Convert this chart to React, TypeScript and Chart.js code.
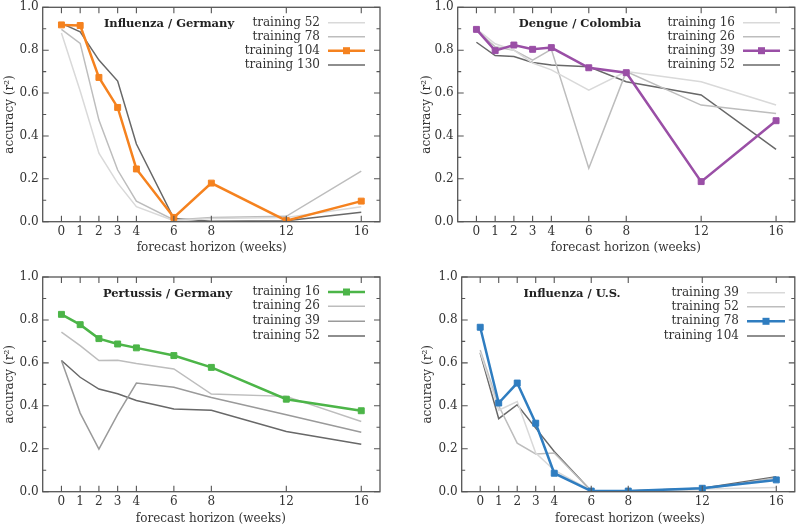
import React, { useEffect, useRef } from 'react';
import { Chart, registerables } from 'chart.js';

Chart.register(...registerables);

// ---------- data ----------
const HORIZONS = [0, 1, 2, 3, 4, 6, 8, 12, 16];
const X_TICKS = [0, 1, 2, 3, 4, 6, 8, 12, 16];
const Y_TICKS = [0, 0.2, 0.4, 0.6, 0.8, 1.0];
const Y_MINOR = [0.1, 0.3, 0.5, 0.7, 0.9];

const fluDe52 = [0.88, 0.61, 0.32, 0.18, 0.07, 0.005, 0.015, 0.02, 0.07];
const fluDe78 = [0.897, 0.832, 0.474, 0.241, 0.096, 0.008, 0.02, 0.025, 0.236];
const fluDe104 = [0.918, 0.915, 0.673, 0.533, 0.246, 0.02, 0.18, 0.005, 0.096];
const fluDe130 = [0.925, 0.886, 0.754, 0.656, 0.362, 0.015, 0.002, 0.005, 0.044];

const dengue16 = [0.9, 0.83, 0.8, 0.74, 0.708, 0.614, 0.7, 0.653, 0.544];
const dengue26 = [0.894, 0.816, 0.8, 0.754, 0.804, 0.249, 0.7, 0.544, 0.505];
const dengue39 = [0.897, 0.798, 0.824, 0.804, 0.812, 0.718, 0.695, 0.187, 0.471];
const dengue52 = [0.837, 0.775, 0.77, 0.743, 0.731, 0.723, 0.653, 0.591, 0.337];

const pert16 = [0.826, 0.778, 0.713, 0.688, 0.67, 0.634, 0.579, 0.431, 0.377];
const pert26 = [0.743, 0.68, 0.611, 0.612, 0.597, 0.572, 0.455, 0.444, 0.327];
const pert39 = [0.611, 0.366, 0.198, 0.36, 0.506, 0.486, 0.439, 0.358, 0.277];
const pert52 = [0.611, 0.533, 0.478, 0.456, 0.425, 0.385, 0.379, 0.28, 0.221];

const fluUs39 = [0.65, 0.38, 0.42, 0.18, 0.1, 0.005, 0.005, 0.012, 0.02];
const fluUs52 = [0.66, 0.4, 0.226, 0.176, 0.18, 0.003, 0.005, 0.01, 0.065];
const fluUs78 = [0.766, 0.413, 0.506, 0.319, 0.086, 0.003, 0.003, 0.016, 0.055];
const fluUs104 = [0.646, 0.34, 0.405, 0.296, 0.187, 0.003, 0.003, 0.016, 0.07];

const X_TITLE = 'forecast horizon (weeks)';
const Y_TITLE = 'accuracy (r²)';

// ---------- styles ----------
const FONT = '"DejaVu Serif", "Liberation Serif", serif';
const G1 = '#d9d9d9';
const G2 = '#bdbdbd';
const G3 = '#9a9a9a';
const G4 = '#686868';
const ORANGE = '#f5821f';
const PURPLE = '#9a4fa6';
const GREEN = '#4cb548';
const BLUE = '#2f7dc0';

type Series = { label: string; data: number[]; color: string; highlight?: boolean };
type PanelCfg = {
  title: string;
  series: Series[];
  pos: { x: number; y: number };
  area: { l: number; r: number; t: number; b: number };
  titleXY: [number, number];
  legend: { textRight: number; lineStart: number; lineEnd: number; rows: number[] };
  xTitleXY: [number, number];
  yTitleX: number;
};

const W = 400;
const H = 262;

const PANELS: PanelCfg[] = [
  {
    title: 'Influenza / Germany',
    series: [
      { label: 'training 52', data: fluDe52, color: G1 },
      { label: 'training 78', data: fluDe78, color: G2 },
      { label: 'training 104', data: fluDe104, color: ORANGE, highlight: true },
      { label: 'training 130', data: fluDe130, color: G4 },
    ],
    pos: { x: 0, y: 0 },
    area: { l: 42.7, r: 380, t: 7.3, b: 221.7 },
    titleXY: [169, 24],
    legend: { textRight: 320, lineStart: 328, lineEnd: 365, rows: [22.7, 36.7, 50.7, 65] },
    xTitleXY: [211.7, 248],
    yTitleX: 10,
  },
  {
    title: 'Dengue / Colombia',
    series: [
      { label: 'training 16', data: dengue16, color: G1 },
      { label: 'training 26', data: dengue26, color: G2 },
      { label: 'training 39', data: dengue39, color: PURPLE, highlight: true },
      { label: 'training 52', data: dengue52, color: G4 },
    ],
    pos: { x: 400, y: 0 },
    area: { l: 57.7, r: 395, t: 7.3, b: 221.7 },
    titleXY: [180, 24],
    legend: { textRight: 335, lineStart: 343, lineEnd: 380, rows: [22.7, 36.7, 50.7, 65] },
    xTitleXY: [225.8, 248],
    yTitleX: 27,
  },
  {
    title: 'Pertussis / Germany',
    series: [
      { label: 'training 16', data: pert16, color: GREEN, highlight: true },
      { label: 'training 26', data: pert26, color: G2 },
      { label: 'training 39', data: pert39, color: G3 },
      { label: 'training 52', data: pert52, color: G4 },
    ],
    pos: { x: 0, y: 262 },
    area: { l: 42.7, r: 380, t: 15, b: 229.7 },
    titleXY: [167.5, 31.7],
    legend: { textRight: 320, lineStart: 328, lineEnd: 365, rows: [30, 44.3, 59.3, 74] },
    xTitleXY: [210.8, 256.7],
    yTitleX: 10,
  },
  {
    title: 'Influenza / U.S.',
    series: [
      { label: 'training 39', data: fluUs39, color: G1 },
      { label: 'training 52', data: fluUs52, color: G2 },
      { label: 'training 78', data: fluUs78, color: BLUE, highlight: true },
      { label: 'training 104', data: fluUs104, color: G4 },
    ],
    pos: { x: 400, y: 262 },
    area: { l: 61.7, r: 398.5, t: 15, b: 229.7 },
    titleXY: [172, 32],
    legend: { textRight: 339, lineStart: 347, lineEnd: 385, rows: [30.7, 44.7, 59.3, 74] },
    xTitleXY: [230, 256.7],
    yTitleX: 28,
  },
];

function decorPlugin(cfg: PanelCfg) {
  return {
    id: 'decor',
    afterDraw(chart: any) {
      const ctx: CanvasRenderingContext2D = chart.ctx;
      const { left, right, top, bottom } = chart.chartArea;
      const xs = chart.scales.x;
      const ys = chart.scales.y;
      ctx.save();
      // frame
      ctx.strokeStyle = '#555555';
      ctx.lineWidth = 1.3;
      ctx.strokeRect(left, top, right - left, bottom - top);
      // ticks
      ctx.lineWidth = 1.1;
      ctx.beginPath();
      X_TICKS.forEach((v) => {
        const px = xs.getPixelForValue(v);
        ctx.moveTo(px, bottom);
        ctx.lineTo(px, bottom - 6);
        ctx.moveTo(px, top);
        ctx.lineTo(px, top + 6);
      });
      Y_TICKS.forEach((v) => {
        const py = ys.getPixelForValue(v);
        ctx.moveTo(left, py);
        ctx.lineTo(left + 6, py);
        ctx.moveTo(right, py);
        ctx.lineTo(right - 6, py);
      });
      Y_MINOR.forEach((v) => {
        const py = ys.getPixelForValue(v);
        ctx.moveTo(left, py);
        ctx.lineTo(left + 3.5, py);
        ctx.moveTo(right, py);
        ctx.lineTo(right - 3.5, py);
      });
      ctx.stroke();

      // title
      ctx.fillStyle = '#222222';
      ctx.font = `bold 11.5px ${FONT}`;
      ctx.textAlign = 'center';
      ctx.textBaseline = 'middle';
      ctx.fillText(cfg.title, cfg.titleXY[0], cfg.titleXY[1]);

      // legend
      ctx.font = `12px ${FONT}`;
      cfg.series.forEach((s, i) => {
        const y = cfg.legend.rows[i];
        ctx.fillStyle = '#333333';
        ctx.textAlign = 'right';
        ctx.textBaseline = 'middle';
        ctx.fillText(s.label, cfg.legend.textRight, y);
        ctx.strokeStyle = s.color;
        ctx.lineWidth = s.highlight ? 2.5 : 1.5;
        ctx.beginPath();
        ctx.moveTo(cfg.legend.lineStart, y);
        ctx.lineTo(cfg.legend.lineEnd, y);
        ctx.stroke();
        if (s.highlight) {
          const cx = (cfg.legend.lineStart + cfg.legend.lineEnd) / 2;
          ctx.fillStyle = s.color;
          ctx.fillRect(cx - 3.5, y - 3.5, 7, 7);
        }
      });

      // axis titles
      ctx.fillStyle = '#333333';
      ctx.font = `12px ${FONT}`;
      ctx.textAlign = 'center';
      ctx.textBaseline = 'middle';
      ctx.fillText(X_TITLE, cfg.xTitleXY[0], cfg.xTitleXY[1]);
      ctx.save();
      ctx.translate(cfg.yTitleX, (top + bottom) / 2);
      ctx.rotate(-Math.PI / 2);
      ctx.fillText(Y_TITLE, 0, 0);
      ctx.restore();
      ctx.restore();
    },
  };
}

function PanelChart({ cfg }: { cfg: PanelCfg }) {
  const ref = useRef<HTMLCanvasElement>(null);
  useEffect(() => {
    const canvas = ref.current!;
    const a = cfg.area;
    const chart = new Chart(canvas, {
      type: 'line',
      data: {
        datasets: cfg.series.map((s) => ({
          label: s.label,
          data: HORIZONS.map((x, j) => ({ x, y: s.data[j] })),
          borderColor: s.color,
          backgroundColor: s.color,
          borderWidth: s.highlight ? 2.5 : 1.5,
          pointStyle: 'rect',
          pointRadius: s.highlight ? 4.2 : 0,
          pointBorderWidth: 1,
          pointHoverRadius: 0,
          tension: 0,
          order: s.highlight ? 0 : 1,
        })),
      },
      options: {
        responsive: false,
        animation: false,
        devicePixelRatio: 1,
        events: [],
        layout: { padding: { left: 0, right: W - a.r, top: a.t, bottom: 0 } },
        plugins: {
          legend: { display: false },
          tooltip: { enabled: false },
          title: { display: false },
        },
        scales: {
          x: {
            type: 'linear',
            min: -1,
            max: 17,
            grid: { display: false, drawTicks: false },
            border: { display: false },
            ticks: {
              font: { family: FONT, size: 12 },
              color: '#333333',
              padding: 3,
              maxRotation: 0,
              autoSkip: false,
            },
            afterBuildTicks: (s: any) => {
              s.ticks = X_TICKS.map((v) => ({ value: v }));
            },
            afterFit: (s: any) => {
              s.height = H - a.b;
              s.paddingLeft = 0;
              s.paddingRight = 0;
              s.paddingTop = 0;
              s.paddingBottom = 0;
            },
          },
          y: {
            type: 'linear',
            min: 0,
            max: 1,
            grid: { display: false, drawTicks: false },
            border: { display: false },
            ticks: {
              font: { family: FONT, size: 12 },
              color: '#333333',
              padding: 4,
              callback: (v: any) => Number(v).toFixed(1),
            },
            afterBuildTicks: (s: any) => {
              s.ticks = Y_TICKS.map((v) => ({ value: v }));
            },
            afterFit: (s: any) => {
              s.width = a.l;
              s.paddingLeft = 0;
              s.paddingRight = 0;
              s.paddingTop = 0;
              s.paddingBottom = 0;
            },
          },
        },
      },
      plugins: [decorPlugin(cfg)],
    } as any);
    return () => chart.destroy();
  }, [cfg]);
  return (
    <canvas
      ref={ref}
      width={W}
      height={H}
      style={{ position: 'absolute', left: cfg.pos.x, top: cfg.pos.y, width: W, height: H }}
    />
  );
}

export default function App() {
  return (
    <div style={{ position: 'absolute', left: 0, top: 0, width: 800, height: 524, background: '#ffffff' }}>
      {PANELS.map((p, i) => (
        <PanelChart key={i} cfg={p} />
      ))}
    </div>
  );
}
